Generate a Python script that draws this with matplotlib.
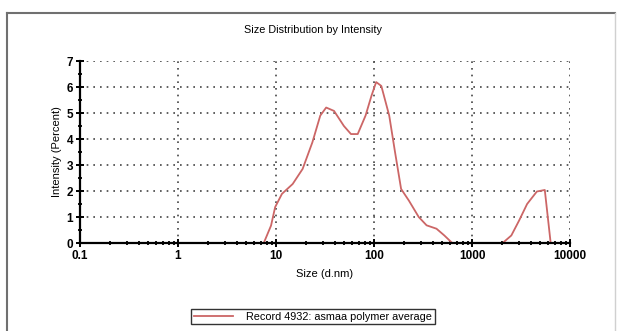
import numpy as np
import matplotlib
matplotlib.use("Agg")
import matplotlib.pyplot as plt
from matplotlib.lines import Line2D
from matplotlib.ticker import LogLocator, MultipleLocator, FixedLocator, FixedFormatter

# size (d.nm) and intensity (%)
size_nm = [0.4, 7.5, 8.9, 9.8, 11.5, 14.8, 18.7, 23.5, 28.3, 32.5, 39.1, 49.3,
           58.2, 68.2, 82.0, 94.2, 105.2, 118.8, 143, 164, 189, 227, 286, 344,
           434, 522, 628, 2055, 2520, 3030, 3650, 4590, 5530, 6350, 10000]
intensity = [0, 0, 0.67, 1.38, 1.89, 2.27, 2.85, 3.87, 4.9, 5.21, 5.08, 4.5,
             4.19, 4.19, 4.9, 5.66, 6.19, 6.04, 4.9, 3.49, 2.08, 1.63, 1.0, 0.68,
             0.55, 0.29, 0.0, 0.0, 0.29, 0.87, 1.5, 1.98, 2.04, 0.0, 0.0]

x_ticks = [0.1, 1, 10, 100, 1000, 10000]
x_labels = ["0.1", "1", "10", "100", "1000", "10000"]
y_ticks = [0, 1, 2, 3, 4, 5, 6, 7]

series_name = "Record 4932: asmaa polymer average"
line_color = "#cc6666"

plt.rcParams["font.family"] = ["Liberation Sans", "DejaVu Sans"]

W, H = 617, 331
fig = plt.figure(figsize=(W / 100, H / 100), dpi=100)

# axes placed in pixel coordinates of the reference
left, right, top, bottom = 80, 570, 61, 243
ax = fig.add_axes([left / W, 1 - bottom / H, (right - left) / W, (bottom - top) / H])

ax.plot(size_nm, intensity, color=line_color, lw=1.3, label=series_name)

ax.set_xscale("log")
ax.set_xlim(0.1, 10000)
ax.set_ylim(0, 7)

ax.xaxis.set_major_locator(FixedLocator(x_ticks))
ax.xaxis.set_major_formatter(FixedFormatter(x_labels))
ax.xaxis.set_minor_locator(LogLocator(base=10, subs=np.arange(2, 10)))
ax.xaxis.set_minor_formatter(plt.NullFormatter())
ax.yaxis.set_major_locator(FixedLocator(y_ticks))
ax.yaxis.set_minor_locator(MultipleLocator(0.5))

for s in ["top", "right"]:
    ax.spines[s].set_visible(False)
for s in ["left", "bottom"]:
    ax.spines[s].set_linewidth(1.6)
    ax.spines[s].set_color("black")

ax.grid(True, which="major", color="#444444", linestyle=(0, (1, 3)), lw=1.2)
ax.set_axisbelow(True)

ax.tick_params(axis="both", which="major", direction="inout", length=6, width=1.4,
               labelsize=8.5, pad=2)
ax.tick_params(axis="both", which="minor", direction="inout", length=3, width=1.3)
for lab in ax.get_xticklabels() + ax.get_yticklabels():
    lab.set_fontweight("bold")

ax.set_xlabel("Size (d.nm)", fontsize=8, labelpad=5)
ax.set_ylabel("Intensity (Percent)", fontsize=8, labelpad=3)

fig.text(313 / W, 1 - 30 / H, "Size Distribution by Intensity", fontsize=7.8,
         ha="center", va="center")

handle = Line2D([], [], color=line_color, lw=1.3)
leg = fig.legend([handle], [series_name], loc="center",
                 bbox_to_anchor=(313 / W, 1 - 316.5 / H), fontsize=7.8,
                 frameon=True, fancybox=False, handlelength=3.6, handletextpad=1.2,
                 borderpad=0.25, borderaxespad=0)
leg.get_frame().set_edgecolor("black")
leg.get_frame().set_linewidth(1.0)

# outer frame of the report panel
fig.add_artist(Line2D([7 / W, 615 / W], [1 - 13 / H, 1 - 13 / H], color="#707070", lw=1.5))
fig.add_artist(Line2D([7 / W, 7 / W], [0, 1 - 13 / H], color="#707070", lw=1.5))
fig.add_artist(Line2D([615 / W, 615 / W], [0, 1 - 13 / H], color="#d0d0d0", lw=1.0))

fig.savefig("out.png", dpi=100)
